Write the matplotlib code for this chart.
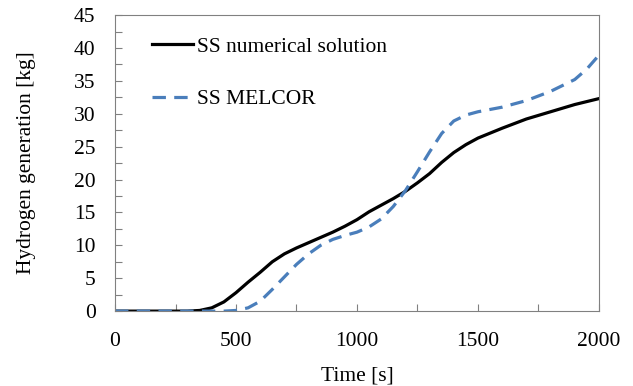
import matplotlib.pyplot as plt
from matplotlib.ticker import MultipleLocator

# time [s] and hydrogen generation [kg]
t_num = [0, 100, 200, 300, 350, 400, 450, 500, 550, 600, 650, 700, 750, 800, 850,
         900, 950, 1000, 1050, 1100, 1150, 1200, 1250, 1300, 1350, 1400, 1450,
         1500, 1600, 1700, 1800, 1900, 2000]
h_num = [0, 0, 0, 0, 0.1, 0.5, 1.4, 2.8, 4.4, 5.9, 7.5, 8.7, 9.6, 10.4, 11.2,
         12.0, 12.9, 13.9, 15.1, 16.1, 17.1, 18.2, 19.5, 20.9, 22.6, 24.1, 25.3,
         26.3, 27.8, 29.2, 30.3, 31.4, 32.3]

t_mel = [0, 100, 200, 300, 400, 450, 500, 550, 600, 650, 700, 750, 800, 850,
         900, 950, 1000, 1050, 1100, 1150, 1200, 1250, 1300, 1350, 1400, 1450,
         1500, 1600, 1700, 1800, 1900, 1950, 2000]
h_mel = [0, 0, 0, 0, 0, 0, 0.1, 0.5, 1.5, 3.3, 5.2, 7.1, 8.7, 10.0,
         10.9, 11.5, 12.0, 12.8, 14.0, 15.9, 18.3, 21.2, 24.2, 27.0, 28.9, 29.8,
         30.3, 31.0, 32.0, 33.4, 35.2, 36.8, 38.9]

plt.rcParams['font.family'] = ['Liberation Serif', 'DejaVu Serif']
plt.rcParams['font.size'] = 15.5

fig = plt.figure(figsize=(6.33, 3.86), dpi=100)
ax = fig.add_axes([0.1817, 0.194, 0.7645, 0.767])

ax.plot(t_num, h_num, color='black', lw=2.3, label='SS numerical solution')
ax.plot(t_mel, h_mel, color='#4a7ebb', lw=2.3, dashes=(4.2, 2.6), label='SS MELCOR')

ax.set_xlim(0, 2000)
ax.set_ylim(0, 45)
ax.xaxis.set_major_locator(MultipleLocator(500))
ax.xaxis.set_minor_locator(MultipleLocator(250))
ax.yaxis.set_major_locator(MultipleLocator(5))
ax.yaxis.set_minor_locator(MultipleLocator(2.5))
ax.tick_params(which='both', direction='in', color='#808080', width=0.8, length=5)
ax.tick_params(axis='y', which='major', pad=14)
ax.tick_params(axis='x', which='major', pad=15)
for sp in ax.spines.values():
    sp.set_color('#808080')
    sp.set_linewidth(0.8)

ax.set_xlabel('Time [s]', labelpad=11)
ax.set_ylabel('Hydrogen generation [kg]', labelpad=27)

ax.legend(loc='upper left', bbox_to_anchor=(0.076, 0.926), frameon=False,
          borderaxespad=0, borderpad=0,
          handlelength=1.9, handletextpad=0.2, labelspacing=1.5)

fig.savefig('out.png', dpi=100)
